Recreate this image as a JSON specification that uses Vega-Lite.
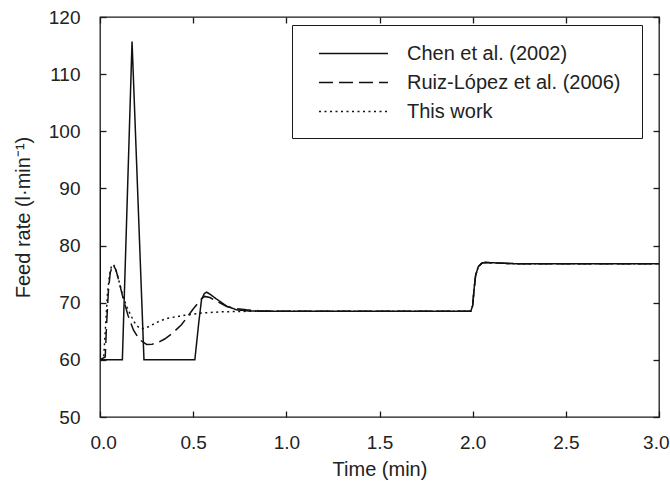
{
  "$schema": "https://vega.github.io/schema/vega-lite/v6.json",
  "autosize": {"type": "none"},
  "width": 559,
  "height": 400,
  "padding": {"left": 100, "top": 17, "right": 11, "bottom": 72},
  "background": "white",
  "config": {
    "view": {"stroke": "#1a1a1a", "strokeWidth": 1.3},
    "font": "Liberation Sans",
    "axis": {
      "labelFont": "Liberation Sans",
      "labelFontSize": 19,
      "labelColor": "#222",
      "titleFont": "Liberation Sans",
      "titleFontSize": 20,
      "titleFontWeight": "normal",
      "titleColor": "#222",
      "grid": false,
      "domainColor": "#1a1a1a",
      "tickColor": "#1a1a1a",
      "tickSize": -6,
      "tickWidth": 1.3,
      "labelFlush": false
    },
    "legend": {
      "labelFont": "Liberation Sans",
      "labelFontSize": 20,
      "labelColor": "#222"
    }
  },
  "data": {
    "values": [
      {"t": 0, "f": 100, "s": "Chen et al. (2002)"},
      {"t": 0.002, "f": 60, "s": "Chen et al. (2002)"},
      {"t": 0.12, "f": 60, "s": "Chen et al. (2002)"},
      {"t": 0.172, "f": 115.7, "s": "Chen et al. (2002)"},
      {"t": 0.236, "f": 60, "s": "Chen et al. (2002)"},
      {"t": 0.509, "f": 60, "s": "Chen et al. (2002)"},
      {"t": 0.53, "f": 66.5, "s": "Chen et al. (2002)"},
      {"t": 0.545, "f": 70.6, "s": "Chen et al. (2002)"},
      {"t": 0.56, "f": 71.6, "s": "Chen et al. (2002)"},
      {"t": 0.572, "f": 71.85, "s": "Chen et al. (2002)"},
      {"t": 0.59, "f": 71.5, "s": "Chen et al. (2002)"},
      {"t": 0.625, "f": 70.65, "s": "Chen et al. (2002)"},
      {"t": 0.68, "f": 69.4, "s": "Chen et al. (2002)"},
      {"t": 0.733, "f": 68.75, "s": "Chen et al. (2002)"},
      {"t": 0.8, "f": 68.55, "s": "Chen et al. (2002)"},
      {"t": 0.9, "f": 68.5, "s": "Chen et al. (2002)"},
      {"t": 1.99, "f": 68.5, "s": "Chen et al. (2002)"},
      {"t": 2.0, "f": 69.5, "s": "Chen et al. (2002)"},
      {"t": 2.008, "f": 72.5, "s": "Chen et al. (2002)"},
      {"t": 2.016, "f": 74.8, "s": "Chen et al. (2002)"},
      {"t": 2.03, "f": 76.3, "s": "Chen et al. (2002)"},
      {"t": 2.05, "f": 76.95, "s": "Chen et al. (2002)"},
      {"t": 2.07, "f": 77.05, "s": "Chen et al. (2002)"},
      {"t": 2.1, "f": 77.0, "s": "Chen et al. (2002)"},
      {"t": 2.2, "f": 76.85, "s": "Chen et al. (2002)"},
      {"t": 2.3, "f": 76.8, "s": "Chen et al. (2002)"},
      {"t": 3.0, "f": 76.8, "s": "Chen et al. (2002)"},

      {"t": 0, "f": 60, "s": "Ruiz-López et al. (2006)"},
      {"t": 0.028, "f": 60.5, "s": "Ruiz-López et al. (2006)"},
      {"t": 0.035, "f": 66, "s": "Ruiz-López et al. (2006)"},
      {"t": 0.045, "f": 72, "s": "Ruiz-López et al. (2006)"},
      {"t": 0.055, "f": 75.3, "s": "Ruiz-López et al. (2006)"},
      {"t": 0.07, "f": 76.6, "s": "Ruiz-López et al. (2006)"},
      {"t": 0.085, "f": 75.8, "s": "Ruiz-López et al. (2006)"},
      {"t": 0.1, "f": 74.0, "s": "Ruiz-López et al. (2006)"},
      {"t": 0.12, "f": 71.3, "s": "Ruiz-López et al. (2006)"},
      {"t": 0.15, "f": 67.8, "s": "Ruiz-López et al. (2006)"},
      {"t": 0.18, "f": 65.2, "s": "Ruiz-López et al. (2006)"},
      {"t": 0.21, "f": 63.6, "s": "Ruiz-López et al. (2006)"},
      {"t": 0.25, "f": 62.7, "s": "Ruiz-López et al. (2006)"},
      {"t": 0.28, "f": 62.75, "s": "Ruiz-López et al. (2006)"},
      {"t": 0.31, "f": 63.0, "s": "Ruiz-López et al. (2006)"},
      {"t": 0.347, "f": 63.65, "s": "Ruiz-López et al. (2006)"},
      {"t": 0.39, "f": 64.7, "s": "Ruiz-López et al. (2006)"},
      {"t": 0.437, "f": 66.15, "s": "Ruiz-López et al. (2006)"},
      {"t": 0.464, "f": 67.3, "s": "Ruiz-López et al. (2006)"},
      {"t": 0.5, "f": 68.9, "s": "Ruiz-López et al. (2006)"},
      {"t": 0.526, "f": 69.95, "s": "Ruiz-López et al. (2006)"},
      {"t": 0.545, "f": 70.7, "s": "Ruiz-López et al. (2006)"},
      {"t": 0.562, "f": 71.1, "s": "Ruiz-López et al. (2006)"},
      {"t": 0.59, "f": 70.9, "s": "Ruiz-López et al. (2006)"},
      {"t": 0.63, "f": 70.2, "s": "Ruiz-López et al. (2006)"},
      {"t": 0.68, "f": 69.35, "s": "Ruiz-López et al. (2006)"},
      {"t": 0.73, "f": 68.95, "s": "Ruiz-López et al. (2006)"},
      {"t": 0.786, "f": 68.75, "s": "Ruiz-López et al. (2006)"},
      {"t": 0.85, "f": 68.6, "s": "Ruiz-López et al. (2006)"},
      {"t": 0.95, "f": 68.5, "s": "Ruiz-López et al. (2006)"},
      {"t": 1.99, "f": 68.5, "s": "Ruiz-López et al. (2006)"},
      {"t": 2.0, "f": 69.5, "s": "Ruiz-López et al. (2006)"},
      {"t": 2.008, "f": 72.5, "s": "Ruiz-López et al. (2006)"},
      {"t": 2.016, "f": 74.8, "s": "Ruiz-López et al. (2006)"},
      {"t": 2.03, "f": 76.3, "s": "Ruiz-López et al. (2006)"},
      {"t": 2.05, "f": 76.95, "s": "Ruiz-López et al. (2006)"},
      {"t": 2.07, "f": 77.05, "s": "Ruiz-López et al. (2006)"},
      {"t": 2.1, "f": 77.0, "s": "Ruiz-López et al. (2006)"},
      {"t": 2.2, "f": 76.85, "s": "Ruiz-López et al. (2006)"},
      {"t": 2.3, "f": 76.8, "s": "Ruiz-López et al. (2006)"},
      {"t": 3.0, "f": 76.8, "s": "Ruiz-López et al. (2006)"},

      {"t": 0, "f": 60, "s": "This work"},
      {"t": 0.02, "f": 60.5, "s": "This work"},
      {"t": 0.03, "f": 66, "s": "This work"},
      {"t": 0.04, "f": 71.5, "s": "This work"},
      {"t": 0.05, "f": 74.5, "s": "This work"},
      {"t": 0.06, "f": 76.2, "s": "This work"},
      {"t": 0.07, "f": 76.7, "s": "This work"},
      {"t": 0.08, "f": 76.3, "s": "This work"},
      {"t": 0.095, "f": 74.6, "s": "This work"},
      {"t": 0.11, "f": 72.8, "s": "This work"},
      {"t": 0.123, "f": 71.1, "s": "This work"},
      {"t": 0.145, "f": 69.2, "s": "This work"},
      {"t": 0.168, "f": 67.6, "s": "This work"},
      {"t": 0.19, "f": 66.3, "s": "This work"},
      {"t": 0.213, "f": 65.5, "s": "This work"},
      {"t": 0.235, "f": 65.5, "s": "This work"},
      {"t": 0.26, "f": 65.8, "s": "This work"},
      {"t": 0.32, "f": 66.8, "s": "This work"},
      {"t": 0.365, "f": 67.3, "s": "This work"},
      {"t": 0.455, "f": 67.8, "s": "This work"},
      {"t": 0.55, "f": 68.2, "s": "This work"},
      {"t": 0.65, "f": 68.4, "s": "This work"},
      {"t": 0.8, "f": 68.5, "s": "This work"},
      {"t": 1.99, "f": 68.5, "s": "This work"},
      {"t": 2.0, "f": 69.5, "s": "This work"},
      {"t": 2.008, "f": 72.5, "s": "This work"},
      {"t": 2.016, "f": 74.8, "s": "This work"},
      {"t": 2.03, "f": 76.3, "s": "This work"},
      {"t": 2.05, "f": 76.95, "s": "This work"},
      {"t": 2.07, "f": 77.05, "s": "This work"},
      {"t": 2.1, "f": 77.0, "s": "This work"},
      {"t": 2.2, "f": 76.85, "s": "This work"},
      {"t": 2.3, "f": 76.8, "s": "This work"},
      {"t": 3.0, "f": 76.8, "s": "This work"}
    ]
  },
  "layer": [
    {
      "mark": {"type": "line", "color": "#111", "strokeWidth": 1.5, "clip": true},
      "encoding": {
        "x": {
          "field": "t", "type": "quantitative",
          "scale": {"domain": [0, 3], "nice": false, "zero": false},
          "axis": {"title": "Time (min)", "values": [0, 0.5, 1, 1.5, 2, 2.5, 3], "format": ".1f", "labelPadding": 22, "titlePadding": 7, "domain": false, "labelFlush": true, "labelFlushOffset": 10}
        },
        "y": {
          "field": "f", "type": "quantitative",
          "scale": {"domain": [50, 120], "nice": false, "zero": false},
          "axis": {"title": "Feed rate (l·min⁻¹)", "values": [50, 60, 70, 80, 90, 100, 110, 120], "format": "d", "labelPadding": 26, "titlePadding": 15, "domain": false}
        },
        "strokeDash": {
          "field": "s", "type": "nominal",
          "scale": {
            "domain": ["Chen et al. (2002)", "Ruiz-López et al. (2006)", "This work"],
            "range": [[1, 0], [14, 6], [2, 3.5]]
          },
          "legend": {
            "title": "\u00a0",
            "titleOrient": "right",
            "titlePadding": 6,
            "titleFontSize": 20,
            "orient": "none",
            "legendX": 192,
            "legendY": 8,
            "padding": 16,
            "strokeColor": "#1a1a1a",
            "fillColor": "white",
            "symbolType": "M-3,0H3",
            "symbolSize": 529,
            "symbolOffset": 33,
            "symbolStrokeColor": "#111",
            "symbolStrokeWidth": 1.5,
            "labelOffset": 41,
            "labelLimit": 400,
            "rowPadding": 6
          }
        }
      }
    },
    {
      "mark": {"type": "line", "strokeOpacity": 0},
      "encoding": {
        "x": {
          "field": "t", "type": "quantitative",
          "axis": {"orient": "top", "title": null, "labels": false, "domain": false, "values": [0, 0.5, 1, 1.5, 2, 2.5, 3]}
        },
        "y": {
          "field": "f", "type": "quantitative",
          "axis": {"orient": "right", "title": null, "labels": false, "domain": false, "values": [50, 60, 70, 80, 90, 100, 110, 120]}
        }
      }
    }
  ],
  "resolve": {"axis": {"x": "independent", "y": "independent"}}
}
